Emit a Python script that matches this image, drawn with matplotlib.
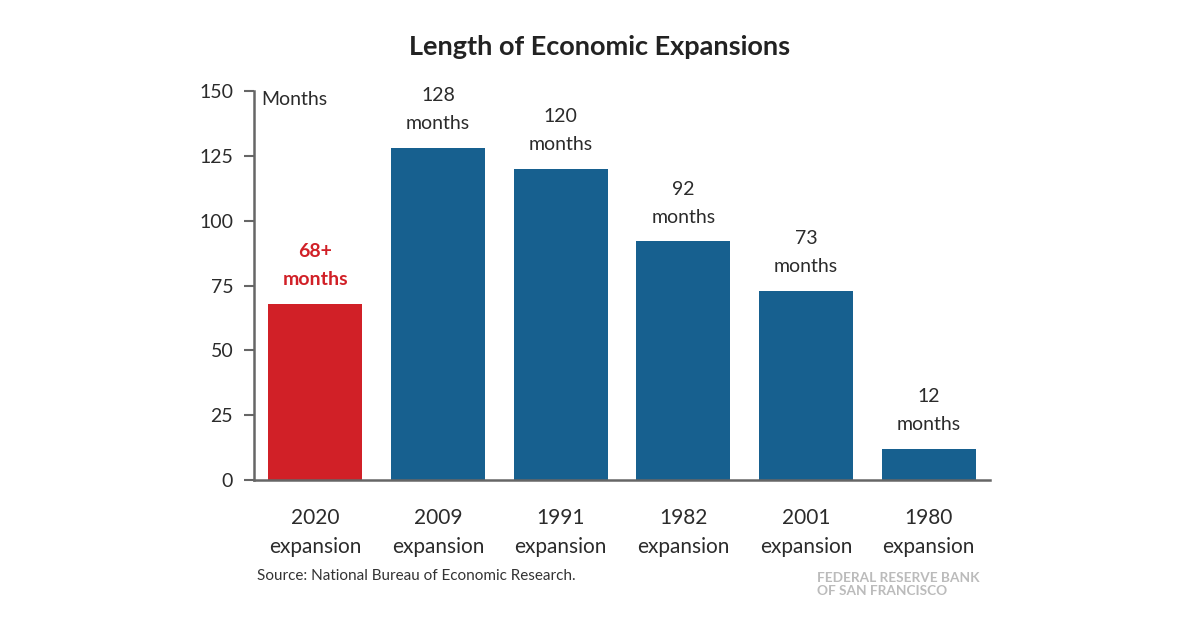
import matplotlib.pyplot as plt

# Data
categories = ["2020\nexpansion", "2009\nexpansion", "1991\nexpansion",
              "1982\nexpansion", "2001\nexpansion", "1980\nexpansion"]
months = [68, 128, 120, 92, 73, 12]
bar_labels = ["68+\nmonths", "128\nmonths", "120\nmonths",
              "92\nmonths", "73\nmonths", "12\nmonths"]
yticks = [0, 25, 50, 75, 100, 125, 150]

red = "#D12027"
blue = "#17608F"
text_col = "#2b2b2b"

plt.rcParams['font.family'] = ['Lato', 'DejaVu Sans']

fig = plt.figure(figsize=(12, 6.27), dpi=100)
ax = fig.add_axes([0.2117, 0.2344, 0.6133, 0.6205])

colors = [red] + [blue] * (len(months) - 1)
x = range(len(months))
ax.bar(x, months, width=0.765, color=colors, zorder=2)

for i, (v, lab) in enumerate(zip(months, bar_labels)):
    if i == 0:
        ax.text(i, v + 6, lab, ha='center', va='bottom', fontsize=14,
                color=red, fontweight='bold', linespacing=1.8)
    else:
        ax.text(i, v + 6, lab, ha='center', va='bottom', fontsize=14,
                color=text_col, linespacing=1.8)

ax.set_xlim(-0.5, 5.5)
ax.set_ylim(0, 150)
ax.set_yticks(yticks)
ax.set_xticks(list(x))
ax.set_xticklabels(categories, fontsize=15, color=text_col,
                   linespacing=1.55)
ax.tick_params(axis='y', labelsize=14, labelcolor=text_col, length=7,
               width=1.5, color="#666666", pad=8)
ax.tick_params(axis='x', length=0, pad=20)

for s in ['top', 'right']:
    ax.spines[s].set_visible(False)
for s in ['left', 'bottom']:
    ax.spines[s].set_color("#666666")
    ax.spines[s].set_linewidth(1.8)

ax.text(0.01, 1.0, "Months", transform=ax.transAxes, ha='left', va='top',
        fontsize=14, color=text_col)

fig.text(0.5, 0.925, "Length of Economic Expansions", ha='center', va='center',
         fontsize=19.5, fontweight='bold', color="#222222")
fig.text(0.214, 0.081, "Source: National Bureau of Economic Research.",
         ha='left', va='center', fontsize=11, color="#333333")
fig.text(0.681, 0.068, "FEDERAL RESERVE BANK\nOF SAN FRANCISCO", ha='left',
         va='center', fontsize=9.8, color="#BBBBBB", fontweight='bold',
         linespacing=1.15)

fig.savefig("out.png", dpi=100)
